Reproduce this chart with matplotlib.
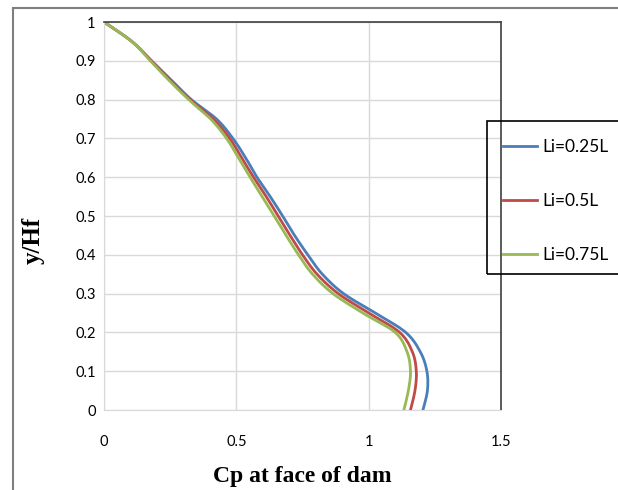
import numpy as np
import matplotlib
matplotlib.use('Agg')
import matplotlib.pyplot as plt
from matplotlib.patches import Rectangle

# data
y_vals = [1, 0.95, 0.9, 0.85, 0.8, 0.75, 0.7, 0.65, 0.6, 0.55, 0.5, 0.45, 0.4,
          0.35, 0.3, 0.25, 0.2, 0.15, 0.1, 0.05, 0]
cp_025 = [0, 0.105, 0.18, 0.255, 0.33, 0.425, 0.487, 0.535, 0.578, 0.628, 0.675, 0.72,
          0.77, 0.825, 0.905, 1.025, 1.14, 1.195, 1.22, 1.222, 1.205]
cp_05 = [0, 0.105, 0.178, 0.25, 0.325, 0.413, 0.475, 0.52, 0.565, 0.613, 0.658, 0.703,
         0.75, 0.805, 0.885, 1.0, 1.117, 1.165, 1.18, 1.175, 1.158]
cp_075 = [0, 0.105, 0.175, 0.245, 0.32, 0.403, 0.463, 0.508, 0.552, 0.598, 0.643, 0.688,
          0.735, 0.788, 0.865, 0.978, 1.10, 1.145, 1.158, 1.15, 1.133]
labels = ['Li=0.25L', 'Li=0.5L', 'Li=0.75L']
colors = ['#4a7ebb', '#be4b48', '#98b954']


def smooth(xs, ys, n=12):
    # Catmull-Rom through the points, like Excel's smoothed lines
    p = np.column_stack([xs, ys]).astype(float)
    p = np.vstack([p[0], p, p[-1]])
    out = []
    t = np.linspace(0, 1, n, endpoint=False)
    for i in range(1, len(p) - 2):
        p0, p1, p2, p3 = p[i - 1], p[i], p[i + 1], p[i + 2]
        tt = t[:, None]
        seg = 0.5 * ((2 * p1) + (-p0 + p2) * tt + (2 * p0 - 5 * p1 + 4 * p2 - p3) * tt ** 2
                     + (-p0 + 3 * p1 - 3 * p2 + p3) * tt ** 3)
        out.append(seg)
    out.append(p[-2][None, :])
    out = np.vstack(out)
    return out[:, 0], out[:, 1]


fig = plt.figure(figsize=(6.18, 4.90), dpi=100)
ax = fig.add_axes([104 / 618, 80 / 490, 397 / 618, 388 / 490])

for cp, lab, c in zip([cp_025, cp_05, cp_075], labels, colors):
    sx, sy = smooth(cp, y_vals)
    ax.plot(sx, sy, color=c, lw=2, label=lab)

ax.set_xlim(0, 1.5)
ax.set_ylim(0, 1)
ax.set_xticks([0, 0.5, 1, 1.5])
ax.set_xticklabels(['0', '0.5', '1', '1.5'])
ax.set_yticks(np.arange(0, 1.01, 0.1))
ax.set_yticklabels(['0', '0.1', '0.2', '0.3', '0.4', '0.5', '0.6', '0.7', '0.8', '0.9', '1'])
ax.grid(True, color='#d9d9d9', lw=1)
ax.set_axisbelow(True)
ax.tick_params(length=0, labelsize=10.5)
ax.tick_params(axis='x', pad=18)
ax.tick_params(axis='y', pad=6)
for lbl in ax.get_xticklabels() + ax.get_yticklabels():
    lbl.set_fontfamily('Lato')
for s in ['top', 'right']:
    ax.spines[s].set_color('#404040')
    ax.spines[s].set_linewidth(1.2)
for s in ['left', 'bottom']:
    ax.spines[s].set_color('#d9d9d9')

ax.set_xlabel('Cp at face of dam', family='Liberation Serif', fontweight='bold', fontsize=17)
ax.set_ylabel('y/Hf', family='Liberation Serif', fontweight='bold', fontsize=18)
ax.xaxis.set_label_coords(0.5, -0.145)
ax.yaxis.set_label_coords(-0.149, 0.438)

# legend box hanging off the right edge
fig.patches.append(Rectangle((487 / 618, 216 / 490), 0.3, 153 / 490, transform=fig.transFigure,
                             fill=False, edgecolor='black', lw=1.2, zorder=5))
leg = fig.legend(loc='center left', bbox_to_anchor=(487 / 618, 289 / 490), frameon=False,
                 prop={'family': 'Lato', 'size': 12.5}, handlelength=2.0, handletextpad=0.3,
                 labelspacing=2.2)

# outer figure border
fig.patches.append(Rectangle((13 / 618, -0.1), 1.0, (482 / 490) + 0.1, transform=fig.transFigure,
                             fill=False, edgecolor='#7f7f7f', lw=1.5))

plt.savefig('out.png', dpi=100)
plt.close()
